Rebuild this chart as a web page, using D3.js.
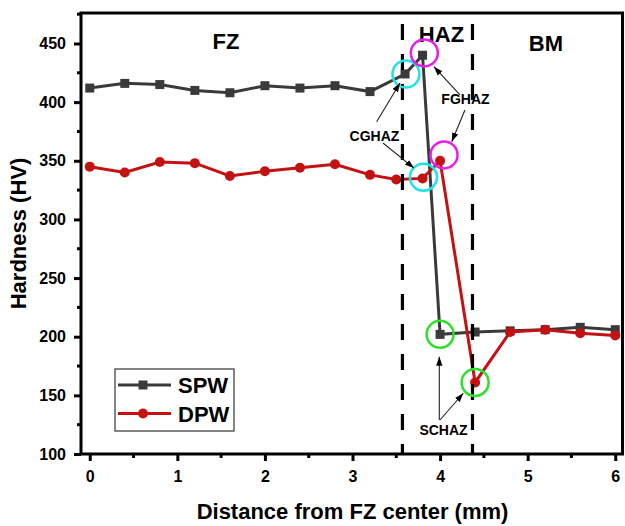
<!DOCTYPE html>
<html>
<head>
<meta http-equiv="Content-type" content="text/html; charset=utf-8">
<title>Hardness profile</title>
<script src="https://cdn.jsdelivr.net/npm/d3@7"></script>
<style>
  body { margin: 0; background: #fff; }
  svg text { font-family: "Liberation Sans", Arial, sans-serif; font-weight: bold; fill: #000; }
</style>
</head>
<body>
<script type="text/javascript">

// DATA
var spwX = [0, 0.4, 0.8, 1.2, 1.6, 2.0, 2.4, 2.8, 3.2, 3.6, 3.8, 4.0, 4.4, 4.8, 5.2, 5.6, 6.0];
var spwHV = [412, 416, 415, 410, 408, 414, 412, 414, 409, 424, 440, 202, 204, 205, 206, 208, 206];

var dpwX = [0, 0.4, 0.8, 1.2, 1.6, 2.0, 2.4, 2.8, 3.2, 3.5, 3.8, 4.0, 4.4, 4.8, 5.2, 5.6, 6.0];
var dpwHV = [345, 340, 349, 348, 337, 341, 344, 347, 338, 334, 335, 350, 161, 204, 206, 203, 201];

var xTicks = [0, 1, 2, 3, 4, 5, 6];
var yTicks = [100, 150, 200, 250, 300, 350, 400, 450];

var zoneBounds = [3.57, 4.37];            // dashed lines (mm)
var zoneNames = ["FZ", "HAZ", "BM"];
var zoneLabelX = [1.556, 4.016, 5.209];
var zoneLabelY = [445, 451, 444];

// circled points: series, index (+ small nudge in data units)
var ringSeries = ["spw", "dpw", "spw", "dpw", "spw", "dpw"];
var ringIndex = [9, 10, 10, 11, 11, 12];
var ringDx = [0.01, 0.01, 0.02, 0.045, 0, 0];
var ringDy = [0, 1, 2, 5, 0, 0];
var ringColor = ["#1ee4ea", "#1ee4ea", "#e620e6", "#e620e6", "#2fe02a", "#2fe02a"];

var noteNames = ["CGHAZ", "FGHAZ", "SCHAZ"];
var noteX = [3.251, 4.29, 4.039];
var noteY = [367, 398.4, 116.2];

// arrows: [x1, y1, x2, y2] in data units
var arrows = [
  [3.276, 383.3, 3.542, 416.3],
  [3.348, 365.2, 3.702, 343.8],
  [4.227, 406.1, 3.930, 430.2],
  [4.284, 393.3, 4.133, 366.3],
  [3.991, 129.0, 3.991, 183.0],
  [3.999, 129.0, 4.265, 151.8]
];

var spwColor = "#3a3a3a";
var dpwColor = "#c41212";

var W = 625, H = 526;
var margin = {top: 13, right: 1, bottom: 72, left: 81};

var x = d3.scaleLinear().domain([-0.1, 6.1]).range([margin.left, W - margin.right]);
var y = d3.scaleLinear().domain([100, 476]).range([H - margin.bottom, margin.top]);

var svg = d3.select("body").append("svg").attr("width", W).attr("height", H);

var spw = spwX.map(function (d, i) { return {x: d, v: spwHV[i]}; });
var dpw = dpwX.map(function (d, i) { return {x: d, v: dpwHV[i]}; });

var line = d3.line().x(function (d) { return x(d.x); }).y(function (d) { return y(d.v); });

// series
svg.append("path").datum(spw)
  .attr("d", line).attr("fill", "none")
  .attr("stroke", spwColor).attr("stroke-width", 3);
svg.selectAll(".sq").data(spw).enter().append("rect")
  .attr("class", "sq")
  .attr("x", function (d) { return x(d.x) - 4.5; })
  .attr("y", function (d) { return y(d.v) - 4.5; })
  .attr("width", 9).attr("height", 9)
  .attr("fill", spwColor);

svg.append("path").datum(dpw)
  .attr("d", line).attr("fill", "none")
  .attr("stroke", dpwColor).attr("stroke-width", 3);
svg.selectAll(".dot").data(dpw).enter().append("circle")
  .attr("class", "dot")
  .attr("cx", function (d) { return x(d.x); })
  .attr("cy", function (d) { return y(d.v); })
  .attr("r", 5)
  .attr("fill", dpwColor);

// zone boundaries
svg.selectAll(".zone").data(zoneBounds).enter().append("line")
  .attr("x1", function (d) { return x(d); }).attr("x2", function (d) { return x(d); })
  .attr("y1", y.range()[1]).attr("y2", y.range()[0])
  .attr("stroke", "#000").attr("stroke-width", 3.2)
  .attr("stroke-dasharray", "16,14").attr("stroke-dashoffset", -11);

svg.selectAll(".zlab").data(zoneNames).enter().append("text")
  .attr("x", function (d, i) { return x(zoneLabelX[i]); })
  .attr("y", function (d, i) { return y(zoneLabelY[i]); })
  .attr("text-anchor", "middle")
  .style("font-size", "22px")
  .text(function (d) { return d; });

// rings around points
svg.selectAll(".ring").data(ringIndex).enter().append("circle")
  .attr("cx", function (d, i) { var s = ringSeries[i] == "spw" ? spw : dpw; return x(s[d].x + ringDx[i]); })
  .attr("cy", function (d, i) { var s = ringSeries[i] == "spw" ? spw : dpw; return y(s[d].v + ringDy[i]); })
  .attr("r", 13.5)
  .attr("fill", "none")
  .attr("stroke", function (d, i) { return ringColor[i]; })
  .attr("stroke-width", 2.5);

// arrows
svg.append("defs").append("marker")
  .attr("id", "head").attr("viewBox", "0 0 10 10")
  .attr("refX", 10).attr("refY", 5)
  .attr("markerWidth", 9).attr("markerHeight", 9)
  .attr("markerUnits", "userSpaceOnUse")
  .attr("orient", "auto")
  .append("path").attr("d", "M0,1.5L10,5L0,8.5Z").attr("fill", "#000");

svg.selectAll(".arr").data(arrows).enter().append("line")
  .attr("x1", function (d) { return x(d[0]); }).attr("y1", function (d) { return y(d[1]); })
  .attr("x2", function (d) { return x(d[2]); }).attr("y2", function (d) { return y(d[3]); })
  .attr("stroke", "#222").attr("stroke-width", 1.1)
  .attr("marker-end", "url(#head)");

svg.selectAll(".note").data(noteNames).enter().append("text")
  .attr("x", function (d, i) { return x(noteX[i]); })
  .attr("y", function (d, i) { return y(noteY[i]); })
  .attr("text-anchor", "middle")
  .style("font-size", "14px")
  .text(function (d) { return d; });

// axes
var xAxis = d3.axisBottom(x).tickValues(xTicks).tickSize(7).tickSizeOuter(0).tickPadding(10)
  .tickFormat(d3.format("d"));
var yAxis = d3.axisLeft(y).tickValues(yTicks).tickSize(7).tickSizeOuter(0).tickPadding(8)
  .tickFormat(d3.format("d"));

var gx = svg.append("g").attr("transform", "translate(0," + y.range()[0] + ")").call(xAxis);
var gy = svg.append("g").attr("transform", "translate(" + x.range()[0] + ",0)").call(yAxis);

[gx, gy].forEach(function (g) {
  g.select(".domain").remove();
  g.selectAll(".tick line").attr("stroke", "#000").attr("stroke-width", 3);
  g.selectAll(".tick text").style("font-size", "16px").attr("fill", "#000")
    .style("font-family", "'Liberation Sans', Arial, sans-serif").style("font-weight", "bold");
});

// minor ticks
var xMinor = d3.range(0.5, 6, 1);
var yMinor = d3.range(125, 476, 50);
svg.selectAll(".xm").data(xMinor).enter().append("line")
  .attr("x1", function (d) { return x(d); }).attr("x2", function (d) { return x(d); })
  .attr("y1", y.range()[0]).attr("y2", y.range()[0] + 4)
  .attr("stroke", "#000").attr("stroke-width", 3);
svg.selectAll(".ym").data(yMinor).enter().append("line")
  .attr("y1", function (d) { return y(d); }).attr("y2", function (d) { return y(d); })
  .attr("x1", x.range()[0]).attr("x2", x.range()[0] - 4)
  .attr("stroke", "#000").attr("stroke-width", 3);

// frame
svg.append("rect")
  .attr("x", x.range()[0]).attr("y", y.range()[1])
  .attr("width", x.range()[1] - x.range()[0] - 1.5)
  .attr("height", y.range()[0] - y.range()[1])
  .attr("fill", "none").attr("stroke", "#000").attr("stroke-width", 3);

// titles
svg.append("text")
  .attr("x", (x.range()[0] + x.range()[1]) / 2).attr("y", 519)
  .attr("text-anchor", "middle").style("font-size", "22px")
  .text("Distance from FZ center (mm)");
svg.append("text")
  .attr("transform", "translate(26," + (y.range()[0] + y.range()[1]) / 2 + ") rotate(-90)")
  .attr("text-anchor", "middle").style("font-size", "22px")
  .text("Hardness (HV)");

// legend
var lg = svg.append("g").attr("transform", "translate(115,369)");
lg.append("rect").attr("width", 119).attr("height", 62)
  .attr("fill", "#fff").attr("stroke", "#333").attr("stroke-width", 1.2);
var legendItems = [{name: "SPW", color: spwColor, shape: "sq"}, {name: "DPW", color: dpwColor, shape: "dot"}];
legendItems.forEach(function (it, i) {
  var ly = 16 + i * 28.5;
  lg.append("line").attr("x1", 3).attr("x2", 56).attr("y1", ly).attr("y2", ly)
    .attr("stroke", it.color).attr("stroke-width", 3);
  if (it.shape == "sq") {
    lg.append("rect").attr("x", 28 - 4.5).attr("y", ly - 4.5).attr("width", 9).attr("height", 9).attr("fill", it.color);
  } else {
    lg.append("circle").attr("cx", 28).attr("cy", ly).attr("r", 5).attr("fill", it.color);
  }
  lg.append("text").attr("x", 63).attr("y", ly + 8).style("font-size", "22px").text(it.name);
});

</script>
</body>
</html>
